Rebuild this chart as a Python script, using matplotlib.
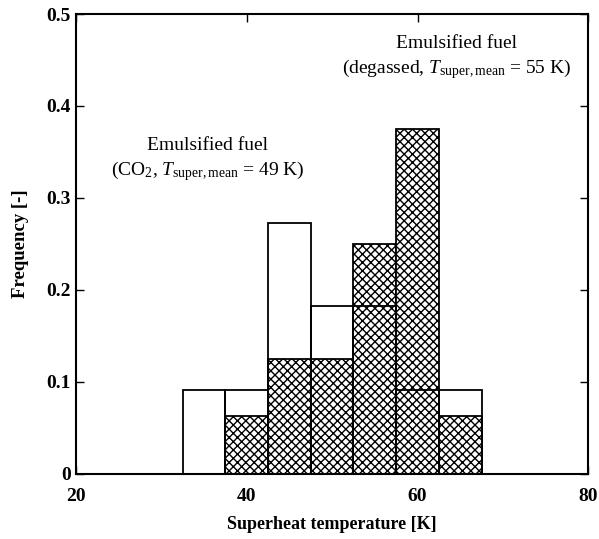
import matplotlib
matplotlib.use("Agg")
import matplotlib.pyplot as plt
import numpy as np

plt.rcParams['font.family'] = ['Liberation Serif', 'DejaVu Serif']
plt.rcParams['mathtext.fontset'] = 'custom'
plt.rcParams['mathtext.rm'] = 'Liberation Serif'
plt.rcParams['mathtext.it'] = 'Liberation Serif:italic'
plt.rcParams['hatch.linewidth'] = 1.0

# Data
bin_centers = [35, 40, 45, 50, 55, 60, 65]
co2_freq = [0.091, 0.091, 0.273, 0.182, 0.182, 0.091, 0.091]
degassed_freq = [0.0, 0.0625, 0.125, 0.125, 0.25, 0.375, 0.0625]
bin_width = 5
x_ticks = [20, 40, 60, 80]
y_ticks = [0, 0.1, 0.2, 0.3, 0.4, 0.5]
y_ticklabels = ['0', '0.1', '0.2', '0.3', '0.4', '0.5']

fig = plt.figure(figsize=(5.99, 5.39), dpi=100)
ax = fig.add_axes([0.127, 0.121, 0.855, 0.853])

dg_x = [c for c, v in zip(bin_centers, degassed_freq) if v > 0]
dg_v = [v for v in degassed_freq if v > 0]
ax.bar(dg_x, dg_v, width=bin_width, facecolor='white', edgecolor='black',
       hatch='xxxx', linewidth=1.3, zorder=2)
ax.bar(bin_centers, co2_freq, width=bin_width, fill=False, edgecolor='black',
       linewidth=1.3, zorder=3)

ax.set_xlim(20, 80)
ax.set_ylim(0, 0.5)
ax.set_xticks(x_ticks)
ax.set_yticks(y_ticks)
ax.set_yticklabels(y_ticklabels)
ax.tick_params(direction='in', top=True, right=True, length=6, width=1,
               labelsize=14)
ax.tick_params(axis='x', pad=10)
ax.tick_params(axis='y', pad=4)
for lab in ax.get_xticklabels() + ax.get_yticklabels():
    lab.set_fontweight('bold')
for s in ax.spines.values():
    s.set_linewidth(1.5)

ax.set_xlabel('Superheat temperature [K]', fontsize=13, fontweight='bold', labelpad=8)
ax.set_ylabel('Frequency [-]', fontsize=13.5, fontweight='bold', labelpad=12)

ax.text(35.4, 0.341, 'Emulsified fuel\n(CO$_2$, $T_{\\rm super,mean}$ = 49 K)',
        ha='center', va='center', fontsize=14, linespacing=1.3)
ax.text(64.6, 0.452, 'Emulsified fuel\n(degassed, $T_{\\rm super,mean}$ = 55 K)',
        ha='center', va='center', fontsize=14, linespacing=1.3)

fig.savefig('out.png', dpi=100)
